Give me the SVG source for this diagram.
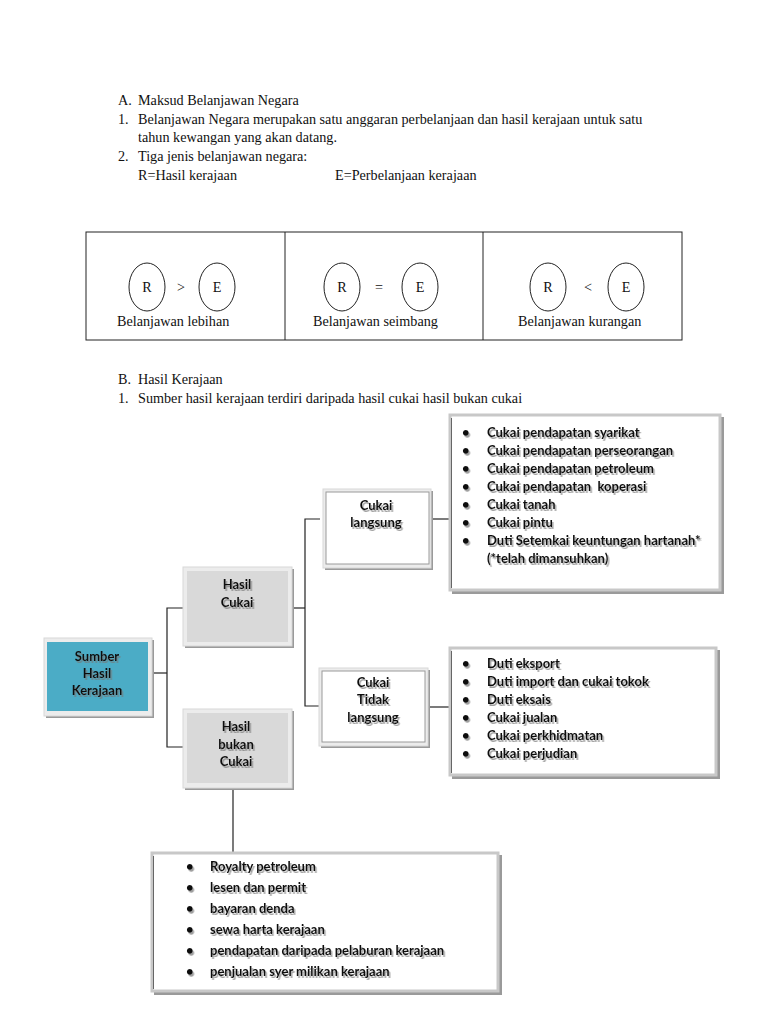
<svg xmlns="http://www.w3.org/2000/svg" width="768" height="1024" viewBox="0 0 768 1024">
<defs>
<style>
.t{font-family:"Liberation Serif",serif;font-size:14.2px;fill:#111}
.c{font-family:Lato,"Open Sans",sans-serif;font-size:13px;font-weight:bold;fill:#111}
.m{text-anchor:middle}
.frame{fill:#ececec;stroke:#d8d8d8;stroke-width:1}
.sh{fill:#9a9a9a}
.ln{stroke:#222;stroke-width:1.2;fill:none}
.lb{fill:#fff;stroke:#c8c8c8;stroke-width:3}
</style>
<filter id="ds" x="-10%" y="-20%" width="120%" height="150%">
<feDropShadow dx="1.5" dy="2" stdDeviation="0.6" flood-color="#777" flood-opacity="0.7"/>
</filter>
</defs>
<rect width="768" height="1024" fill="#fff"/>

<g id="intro">
<text class="t" x="118" y="105">A.</text><text class="t" x="138" y="105">Maksud Belanjawan Negara</text>
<text class="t" x="118" y="124">1.</text><text class="t" x="138" y="124">Belanjawan Negara merupakan satu anggaran perbelanjaan dan hasil kerajaan untuk satu</text>
<text class="t" x="138" y="142">tahun kewangan yang akan datang.</text>
<text class="t" x="118" y="161">2.</text><text class="t" x="138" y="161">Tiga jenis belanjawan negara:</text>
<text class="t" x="138" y="180">R=Hasil kerajaan</text>
<text class="t" x="335" y="180">E=Perbelanjaan kerajaan</text>
</g>

<g id="table">
<rect x="86" y="232" width="596" height="108" fill="none" stroke="#222" stroke-width="1"/>
<line x1="285" y1="232" x2="285" y2="340" stroke="#222"/>
<line x1="483" y1="232" x2="483" y2="340" stroke="#222"/>
<g fill="none" stroke="#222" stroke-width="1">
<ellipse cx="147" cy="287" rx="18" ry="24"/><ellipse cx="217" cy="287" rx="18" ry="24"/>
<ellipse cx="342" cy="287" rx="18" ry="24"/><ellipse cx="420" cy="287" rx="18" ry="24"/>
<ellipse cx="548" cy="287" rx="18" ry="24"/><ellipse cx="626" cy="287" rx="18" ry="24"/>
</g>
<text class="t m" x="147" y="292">R</text><text class="t m" x="181" y="292">&gt;</text><text class="t m" x="217" y="292">E</text>
<text class="t m" x="342" y="292">R</text><text class="t m" x="379" y="292">=</text><text class="t m" x="420" y="292">E</text>
<text class="t m" x="548" y="292">R</text><text class="t m" x="588" y="292">&lt;</text><text class="t m" x="626" y="292">E</text>
<text class="t" x="117" y="326">Belanjawan lebihan</text>
<text class="t" x="313" y="326">Belanjawan seimbang</text>
<text class="t" x="518" y="326">Belanjawan kurangan</text>
</g>

<g id="sectionB">
<text class="t" x="118" y="384">B.</text><text class="t" x="138" y="384">Hasil Kerajaan</text>
<text class="t" x="118" y="403">1.</text><text class="t" x="138" y="403">Sumber hasil kerajaan terdiri daripada hasil cukai hasil bukan cukai</text>
</g>

<g id="connectors" class="ln">
<polyline points="152,673 167,673"/>
<polyline points="183,608 167,608 167,747 183,747"/>
<polyline points="292,608 305,608"/>
<polyline points="320,519 305,519 305,706 319,706"/>
<polyline points="431,519 451,519"/>
<polyline points="428,707 450,707"/>
<polyline points="233,787 233,853"/>
</g>

<g id="sumber">
<rect class="sh" x="46" y="640" width="108" height="78"/>
<rect class="frame" x="44" y="638" width="108" height="78"/>
<rect x="47" y="642" width="101" height="69" fill="#4bacc6"/>
<g class="c m" filter="url(#ds)"><text x="97" y="661">Sumber</text><text x="97" y="678">Hasil</text><text x="97" y="695">Kerajaan</text></g>
</g>

<g id="hasilCukai">
<rect class="sh" x="185" y="569" width="109" height="79"/>
<rect class="frame" x="183" y="567" width="109" height="79"/>
<rect x="187" y="571" width="101" height="71" fill="#d9d9d9"/>
<g class="c m" filter="url(#ds)"><text x="237" y="589">Hasil</text><text x="237" y="607">Cukai</text></g>
</g>

<g id="hasilBukanCukai">
<rect class="sh" x="185" y="711" width="109" height="79"/>
<rect class="frame" x="183" y="709" width="109" height="79"/>
<rect x="187" y="713" width="101" height="70" fill="#d9d9d9"/>
<g class="c m" filter="url(#ds)"><text x="236" y="731">Hasil</text><text x="236" y="749">bukan</text><text x="236" y="766">Cukai</text></g>
</g>

<g id="cukaiLangsung">
<rect class="sh" x="325" y="491" width="108" height="79"/>
<rect class="frame" x="323" y="489" width="108" height="79"/>
<rect x="326" y="492" width="103" height="72" fill="#fff" stroke="#9a9a9a" stroke-width="1"/>
<g class="c m" filter="url(#ds)"><text x="376" y="510">Cukai</text><text x="376" y="527">langsung</text></g>
</g>

<g id="cukaiTidakLangsung">
<rect class="sh" x="321" y="670" width="109" height="78"/>
<rect class="frame" x="319" y="668" width="109" height="78"/>
<rect x="322" y="671" width="103" height="71" fill="#fff" stroke="#9a9a9a" stroke-width="1"/>
<g class="c m" filter="url(#ds)"><text x="373" y="687">Cukai</text><text x="373" y="704">Tidak</text><text x="373" y="722">langsung</text></g>
</g>

<g id="listLangsung">
<rect class="sh" x="452" y="417" width="272" height="177"/>
<rect class="lb" x="450" y="415" width="270" height="175"/>
<line x1="451.5" y1="418" x2="451.5" y2="588" stroke="#666" stroke-width="1"/>
<g class="c" filter="url(#ds)">
<text x="462" y="437">•</text><text x="487" y="437">Cukai pendapatan syarikat</text>
<text x="462" y="455">•</text><text x="487" y="455">Cukai pendapatan perseorangan</text>
<text x="462" y="473">•</text><text x="487" y="473">Cukai pendapatan petroleum</text>
<text x="462" y="491">•</text><text x="487" y="491" style="white-space:pre">Cukai pendapatan  koperasi</text>
<text x="462" y="509">•</text><text x="487" y="509">Cukai tanah</text>
<text x="462" y="527">•</text><text x="487" y="527">Cukai pintu</text>
<text x="462" y="545">•</text><text x="487" y="545">Duti Setemkai keuntungan hartanah*</text>
<text x="487" y="563">(*telah dimansuhkan)</text>
</g>
</g>

<g id="listTidakLangsung">
<rect class="sh" x="452" y="650" width="268" height="129"/>
<rect class="lb" x="450" y="648" width="266" height="127"/>
<line x1="451.5" y1="651" x2="451.5" y2="773" stroke="#666" stroke-width="1"/>
<g class="c" filter="url(#ds)">
<text x="462" y="668">•</text><text x="487" y="668">Duti eksport</text>
<text x="462" y="686">•</text><text x="487" y="686">Duti import dan cukai tokok</text>
<text x="462" y="704">•</text><text x="487" y="704">Duti eksais</text>
<text x="462" y="722">•</text><text x="487" y="722">Cukai jualan</text>
<text x="462" y="740">•</text><text x="487" y="740">Cukai perkhidmatan</text>
<text x="462" y="758">•</text><text x="487" y="758">Cukai perjudian</text>
</g>
</g>

<g id="listBukanCukai">
<rect class="sh" x="154" y="855" width="348" height="140"/>
<rect class="lb" x="152" y="853" width="346" height="138"/>
<line x1="153.5" y1="856" x2="153.5" y2="989" stroke="#666" stroke-width="1"/>
<g class="c" filter="url(#ds)">
<text x="186" y="871">•</text><text x="210" y="871">Royalty petroleum</text>
<text x="186" y="892">•</text><text x="210" y="892">lesen dan permit</text>
<text x="186" y="913">•</text><text x="210" y="913">bayaran denda</text>
<text x="186" y="934">•</text><text x="210" y="934">sewa harta kerajaan</text>
<text x="186" y="955">•</text><text x="210" y="955">pendapatan daripada pelaburan kerajaan</text>
<text x="186" y="976">•</text><text x="210" y="976">penjualan syer milikan kerajaan</text>
</g>
</g>
</svg>
